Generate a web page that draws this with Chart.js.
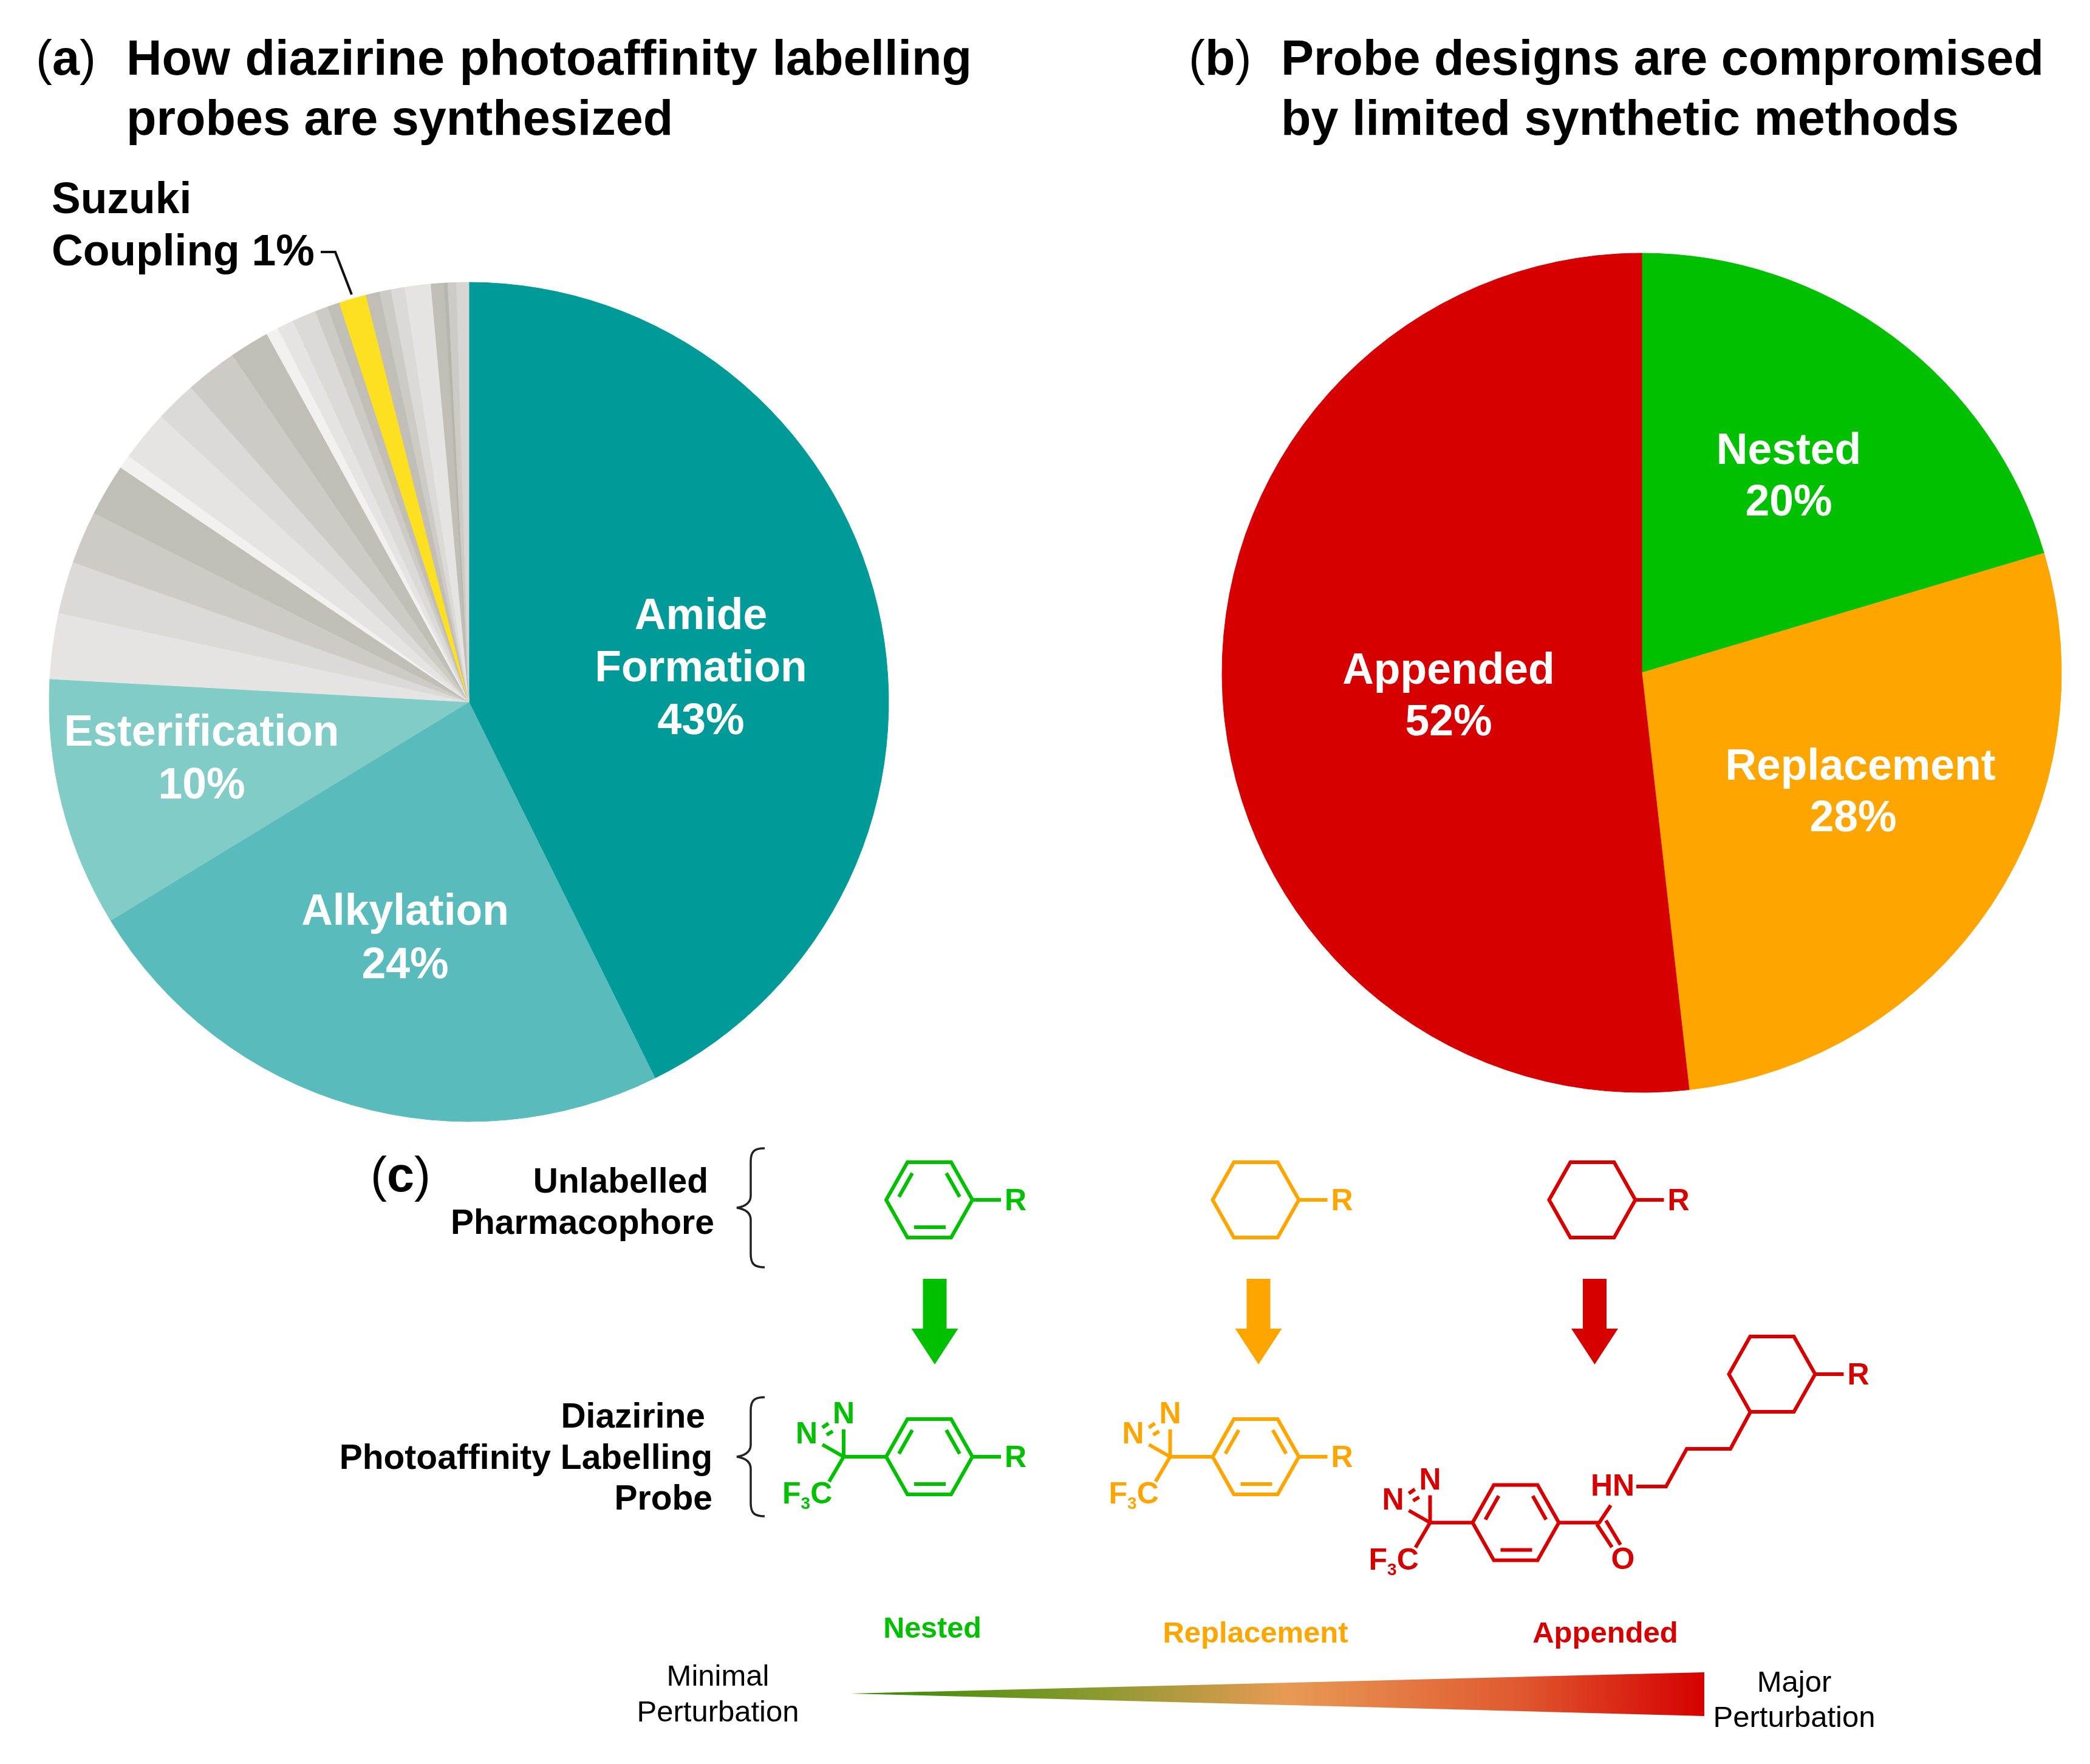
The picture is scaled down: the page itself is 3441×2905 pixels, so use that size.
<!DOCTYPE html>
<html>
<head>
<meta charset="utf-8">
<script src="https://cdn.jsdelivr.net/npm/chart.js@4"></script>
<style>
  html, body { margin: 0; padding: 0; background: #fff; }
  #page { position: relative; width: 3441px; height: 2905px; overflow: hidden; font-family: "Liberation Sans", Arial, sans-serif; }
  canvas, svg { position: absolute; }
  #methodPie { left: 72px; top: 456px; }
  #designPie { left: 2003px; top: 408px; }
  svg { left: 0; top: 0; }
  text { font-family: "Liberation Sans", Arial, sans-serif; }
</style>
</head>
<body>
<div id="page">
  <canvas id="methodPie" width="1400" height="1400"></canvas>
  <canvas id="designPie" width="1400" height="1400"></canvas>
  <svg id="overlay" width="3441" height="2905" viewBox="0 0 3441 2905"></svg>
</div>
<script>
// (a) how the probes are made, clockwise from 12 o'clock. Grey slices are unnamed in the figure
const methodNames = ["Amide Formation", "Alkylation", "Esterification",
  "", "", "", "", "", "", "", "", "", "", "", "", "", "", "Suzuki Coupling",
  "", "", "", "", "", "", "", ""];
const methodValues = [42.7, 23.6, 9.6,
  2.53, 2.0, 2.03, 2.0, 0.53, 1.94, 1.58, 2.0, 1.53, 0.47, 0.64, 0.92, 0.5, 0.47, 1.05,
  0.53, 0.44, 0.53, 1.0, 0.5, 0.14, 0.33, 0.47];
const methodColors = ["#009a98", "#59bbbb", "#82ccc8",
  "#e5e4e2", "#dcdad6", "#cecbc6", "#c1bdb7", "#f2f1f0", "#e5e4e2", "#dcdad6", "#cecbc6", "#c1bdb7",
  "#f2f1f0", "#e5e4e2", "#dcdad6", "#cecbc6", "#c1bdb7", "#fde01f",
  "#c1bdb7", "#cecbc6", "#dcdad6", "#e5e4e2", "#c1bdb7", "#b8b4ae", "#cecbc6", "#d8d6d2"];

// (b) probe designs
const designNames = ["Nested", "Replacement", "Appended"];
const designValues = [20.4, 27.8, 51.8];
const designColors = ["#00c000", "#ffa500", "#d60000"];

// label text and where it sits, in page pixels
const methodLabels = [
  { lines: ["Amide", "Formation", "43%"], x: 1154, y: [1036, 1122, 1209] },
  { lines: ["Alkylation", "24%"], x: 667, y: [1523, 1611] },
  { lines: ["Esterification", "10%"], x: 332, y: [1228, 1315] }
];
const designLabels = [
  { lines: ["Nested", "20%"], x: 2945, y: [764, 849] },
  { lines: ["Replacement"], x: 3063, y: [1284] },
  { lines: ["28%"], x: 3051, y: [1369] },
  { lines: ["Appended", "52%"], x: 2385, y: [1126, 1211] }
];

const sliceText = {
  id: "sliceText",
  afterDatasetsDraw(chart, args, opts) {
    const c = chart.ctx;
    const box = chart.canvas.getBoundingClientRect();
    c.save();
    c.fillStyle = "#fff";
    c.font = "bold 71.5px 'Liberation Sans'";
    c.textAlign = "center";
    opts.items.forEach(function (item) {
      item.lines.forEach(function (line, i) {
        c.fillText(line, item.x - box.left, item.y[i] - box.top);
      });
    });
    c.restore();
  }
};

function makePie(id, names, values, colors, labels) {
  return new Chart(document.querySelector(id), {
    type: "pie",
    data: {
      labels: names,
      datasets: [{ data: values, backgroundColor: colors, borderColor: colors, borderWidth: 1, radius: 691 }]
    },
    options: {
      responsive: false,
      devicePixelRatio: 1,
      animation: false,
      plugins: { legend: { display: false }, tooltip: { enabled: false }, sliceText: { items: labels } }
    },
    plugins: [sliceText]
  });
}

makePie("#methodPie", methodNames, methodValues, methodColors, methodLabels);
makePie("#designPie", designNames, designValues, designColors, designLabels);

// everything else (headings and panel c) goes in the svg
let s = "";

function text(str, x, y, size, bold, anchor, fill, extra) {
  s += `<text x="${x}" y="${y}" font-size="${size}" font-weight="${bold ? "bold" : "normal"}" text-anchor="${anchor || "start"}" fill="${fill || "#000"}" ${extra || ""}>${str}</text>`;
}

function line(pts, color, w) {
  s += `<polyline points="${pts.map(p => p.join(",")).join(" ")}" fill="none" stroke="${color}" stroke-width="${w || 6}" stroke-linejoin="miter"/>`;
}

function ring(cx, cy, color, aromatic) {
  line([[cx - 71, cy], [cx - 36, cy - 62], [cx + 36, cy - 62], [cx + 71, cy], [cx + 36, cy + 62], [cx - 36, cy + 62], [cx - 71, cy], [cx - 36, cy - 62]], color);
  if (aromatic) {
    line([[cx - 28, cy - 44], [cx - 50, cy - 5]], color);
    line([[cx + 28, cy - 44], [cx + 50, cy - 5]], color);
    line([[cx - 25, cy + 45], [cx + 27, cy + 45]], color);
  }
}

function rGroup(cx, cy, color) {
  line([[cx + 71, cy], [cx + 118, cy]], color);
  text("R", cx + 124, cy + 17, 50, true, "start", color);
}

function diazirine(cx, cy, color) {
  const bx = cx - 141;
  line([[cx - 71, cy], [bx, cy]], color);
  line([[bx, cy], [bx, cy - 45]], color);
  line([[bx, cy], [bx - 35, cy - 20]], color);
  line([[bx - 35, cy - 48], [bx - 25, cy - 55]], color);
  line([[bx - 28, cy - 36], [bx - 18, cy - 42]], color);
  line([[bx, cy], [bx - 24, cy + 41]], color);
  text("N", bx, cy - 55, 50, true, "middle", color);
  text("N", bx - 61, cy - 22, 50, true, "middle", color);
  s += `<text x="${bx - 101}" y="${cy + 77}" font-size="50" font-weight="bold" fill="${color}">F<tspan font-size="28" dy="9">3</tspan><tspan dy="-9">C</tspan></text>`;
}

function arrow(cx, color) {
  s += `<polygon points="${cx - 19.5},2106 ${cx + 19.5},2106 ${cx + 19.5},2188 ${cx + 38.5},2188 ${cx},2247 ${cx - 38.5},2188 ${cx - 19.5},2188" fill="${color}"/>`;
}

function brace(midY) {
  const t = midY - 98, b = midY + 98;
  s += `<path d="M1259 ${t} C1242 ${t} 1236 ${t + 5} 1236 ${t + 22} L1236 ${midY - 20} C1236 ${midY - 8} 1226 ${midY - 2} 1213 ${midY} C1226 ${midY + 2} 1236 ${midY + 8} 1236 ${midY + 20} L1236 ${b - 22} C1236 ${b - 5} 1242 ${b} 1259 ${b}" fill="none" stroke="#222" stroke-width="3.5"/>`;
}

function panelTag(letter, x, y) {
  s += `<text x="${x}" y="${y}" font-size="81" fill="#000">(<tspan font-weight="bold">${letter}</tspan>)</text>`;
}

const green = "#00c000", orange = "#ffa500", red = "#d60000";

panelTag("a", 59, 123);
text("How diazirine photoaffinity labelling", 208, 123, 81, true, "start", "#000", 'word-spacing="2"');
text("probes are synthesized", 208, 222, 81, true);
panelTag("b", 1957, 123);
text("Probe designs are compromised", 2109, 123, 81, true);
text("by limited synthetic methods", 2109, 222, 81, true);

text("Suzuki", 85, 351, 71.5, true);
text("Coupling 1%", 85, 437, 71.5, true);
line([[528, 415], [552, 415], [579, 485]], "#111", 4);

panelTag("c", 610, 1962);
text("Unlabelled", 1166, 1964, 57, true, "end");
text("Pharmacophore", 1176, 2032, 57, true, "end");
text("Diazirine", 1161, 2351, 57, true, "end");
text("Photoaffinity Labelling", 1173, 2419, 57, true, "end");
text("Probe", 1173, 2486, 57, true, "end");
brace(1989);
brace(2399);

// top row
ring(1530, 1976, green, true);
rGroup(1530, 1976, green);
ring(2067.5, 1976, orange, false);
rGroup(2067.5, 1976, orange);
ring(2621.5, 1976, red, false);
rGroup(2621.5, 1976, red);

arrow(1539, green);
arrow(2072, orange);
arrow(2625.5, red);

// probes
ring(1530, 2399, green, true);
rGroup(1530, 2399, green);
diazirine(1530, 2399, green);
ring(2067.5, 2399, orange, true);
rGroup(2067.5, 2399, orange);
diazirine(2067.5, 2399, orange);

ring(2495.5, 2507.5, red, true);
diazirine(2495.5, 2507.5, red);
line([[2566, 2507.5], [2633, 2507.5], [2652, 2479]], red);
line([[2629, 2510], [2654, 2548]], red);
line([[2644, 2504], [2668, 2544]], red);
text("O", 2672, 2584, 50, true, "middle", red);
text("HN", 2619, 2463, 50, true, "start", red);
line([[2694, 2448], [2743, 2448], [2777, 2386], [2849, 2386], [2882, 2325]], red);
ring(2917.5, 2263, red, false);
rGroup(2917.5, 2263, red);

text("Nested", 1535, 2697, 48.5, true, "middle", green);
text("Replacement", 2067, 2705, 49, true, "middle", orange);
text("Appended", 2643, 2705, 49, true, "middle", red);

// perturbation wedge
s += `<defs><linearGradient id="wedge" gradientUnits="userSpaceOnUse" x1="1400" y1="0" x2="2806" y2="0">
  <stop offset="0" stop-color="#2f8a00"/><stop offset="0.29" stop-color="#8b9a2f"/>
  <stop offset="0.51" stop-color="#e89a55"/><stop offset="0.78" stop-color="#e05a30"/>
  <stop offset="1" stop-color="#d50000"/></linearGradient></defs>`;
s += `<polygon points="1400,2789 2806,2754 2806,2826" fill="url(#wedge)"/>`;
text("Minimal", 1182, 2776, 49, false, "middle");
text("Perturbation", 1182, 2835, 49, false, "middle");
text("Major", 2954, 2786, 49, false, "middle");
text("Perturbation", 2954, 2844, 49, false, "middle");

document.querySelector("#overlay").innerHTML = s;
</script>
</body>
</html>
